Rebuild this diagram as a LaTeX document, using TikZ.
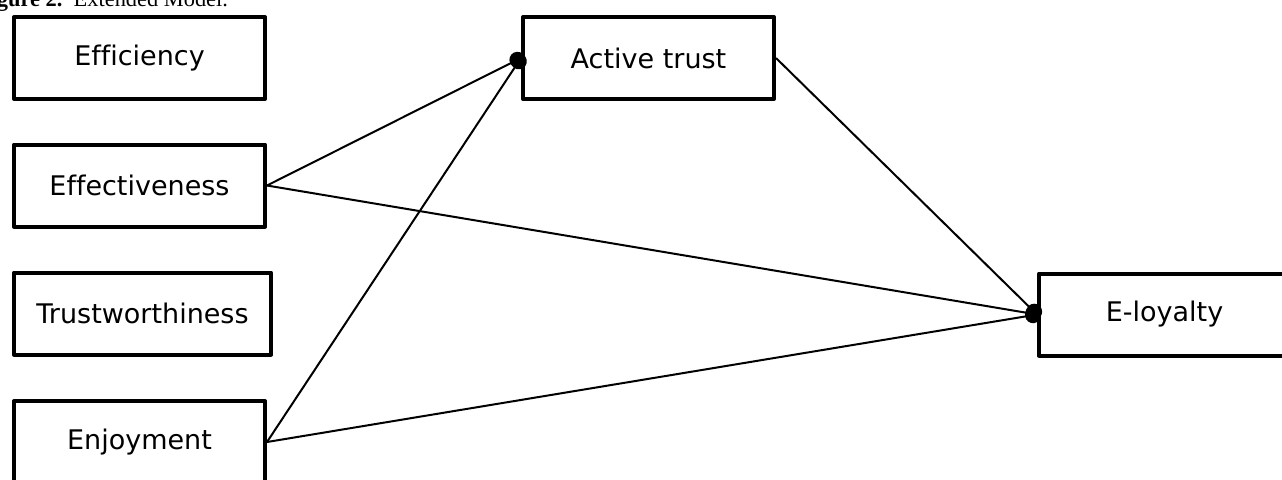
\documentclass[tikz,border=0pt]{standalone}
\usepackage{fontspec}
\setmainfont{DejaVu Sans}[Ligatures=NoCommon]
\newfontfamily\capfont{Liberation Serif}
\usetikzlibrary{arrows.meta}
\begin{document}
\begin{tikzpicture}[x=0.5pt,y=-0.5pt,line join=round,
	every node/.style={font=\fontsize{13.5}{16}\selectfont},
	factor/.style={draw,line width=2pt,minimum width=125.5pt,minimum height=41pt,inner sep=0pt},
	path/.style={line width=1pt,-{Circle[length=8pt]},shorten >=-2pt}]
	\useasboundingbox (0,0) rectangle (1282,479);
	\node[anchor=base west,font=\capfont\fontsize{11.2}{13}\selectfont] (cap) at (-30,6) {\textbf{Figure 2.}\enspace Extended Model.};
	% antecedents
	\node[factor] (eff) at (139.5,58) {Efficiency};
	\node[factor] (effe) at (139.5,185.5) {Effectiveness};
	\node[factor,minimum width=128.5pt] (trw) at (142.5,313.5) {Trustworthiness};
	\node[factor] (enj) at (139.5,442) {Enjoyment};
	% mediator and outcome
	\node[factor] (at) at (648.5,58) {Active trust};
	\node[factor] (el) at (1164.5,314.5) {E-loyalty};
	\draw[path] (effe.east) -- (at.west);
	\draw[path] (enj.east) -- (at.west);
	\draw[path] (effe.east) -- (el.west);
	\draw[path] (enj.east) -- (el.west);
	\draw[path] (at.east) -- (el.west);
\end{tikzpicture}
\end{document}
